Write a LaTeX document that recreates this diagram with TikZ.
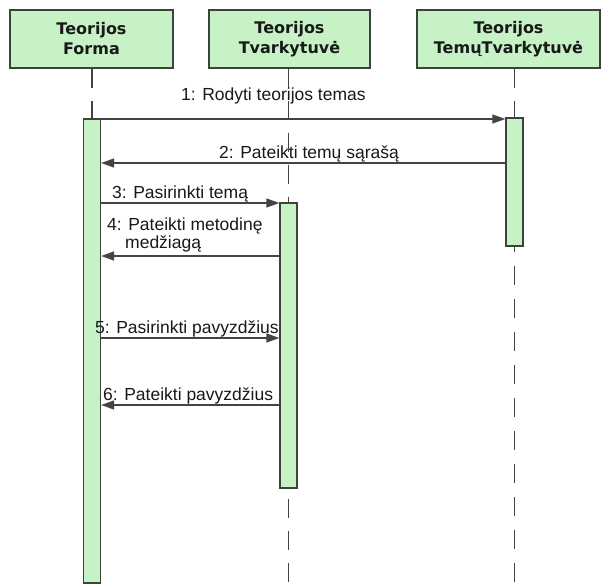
\documentclass[tikz,border=0pt]{standalone}
\usepackage{fontspec}
\setmainfont{Liberation Sans}
\newfontfamily\headfont{DejaVu Sans}
\usetikzlibrary{arrows.meta}
\definecolor{boxfill}{RGB}{198,242,198}
\definecolor{boxedge}{RGB}{58,68,58}
\definecolor{linegray}{RGB}{68,68,68}
\definecolor{txt}{RGB}{25,25,25}
\begin{document}
\begin{tikzpicture}[x=1pt,y=-1pt,
  head/.style={draw=boxedge,fill=boxfill,line width=1.3pt,minimum height=58pt,
    inner sep=0pt,align=center,text=txt,
    font=\headfont\bfseries\fontsize{16}{20}\selectfont},
  actbox/.style={draw=boxedge,fill=boxfill,line width=1.3pt,minimum width=17pt,
    inner sep=0pt},
  life/.style={draw=linegray,line width=1.3pt,dash pattern=on 19pt off 13pt},
  msg/.style={draw=linegray,line width=1.4pt,
    -{Triangle[length=13pt,width=9pt]}},
  lbl/.style={anchor=base west,inner sep=0pt,text=txt,
    font=\fontsize{17.5}{18}\selectfont}]
\useasboundingbox[fill=white] (0,0) rectangle (605,586);
% heads
\node[head,minimum width=163pt] (h1) at (91.5,39) {Teorijos\\Forma};
\node[head,minimum width=161pt] (h2) at (289.5,39) {Teorijos\\Tvarkytuvė};
\node[head,minimum width=183pt] (h3) at (508.5,39) {Teorijos\\TemųTvarkytuvė};
% activations
\node[actbox,minimum height=464pt] (a1) at (92,351) {};
\node[actbox,minimum height=285pt] (a2) at (288.5,345.5) {};
\node[actbox,minimum height=128pt] (a3) at (514.5,182) {};
% lifelines
\draw[life] (a1.north |- h1.south) -- (a1.north);
\draw[life] (a2.north |- h2.south) -- (a2.north);
\draw[life] (a3.north |- h3.south) -- (a3.north);
\coordinate (end) at (0,583);
\draw[life,dash phase=22pt] (a2.south) -- (a2.south |- end);
\draw[life,dash pattern=on 19pt off 14pt,dash phase=14pt] (a3.south) -- (a3.south |- end);
% message levels
\coordinate (y1) at (0,119);
\coordinate (y2) at (0,163);
\coordinate (y3) at (0,203);
\coordinate (y4) at (0,256);
\coordinate (y5) at (0,338);
\coordinate (y6) at (0,405);
\draw[msg] (a1.east |- y1) -- (a3.west |- y1);
\draw[msg] (a3.west |- y2) -- (a1.east |- y2);
\draw[msg] (a1.east |- y3) -- (a2.west |- y3);
\draw[msg] (a2.west |- y4) -- (a1.east |- y4);
\draw[msg] (a1.east |- y5) -- (a2.west |- y5);
\draw[msg] (a2.west |- y6) -- (a1.east |- y6);
% labels
\node[lbl] (l1) at (181,100) {1: Rodyti teorijos temas};
\node[lbl] (l2) at (219,158) {2: Pateikti temų sąrašą};
\node[lbl] (l3) at (112,198) {3: Pasirinkti temą};
\node[lbl] (l4a) at (107,230) {4: Pateikti metodinę};
\node[lbl] (l4b) at (125,248) {medžiagą};
\node[lbl] (l5) at (95,333) {5: Pasirinkti pavyzdžius};
\node[lbl] (l6) at (103,400) {6: Pateikti pavyzdžius};
\end{tikzpicture}
\end{document}
